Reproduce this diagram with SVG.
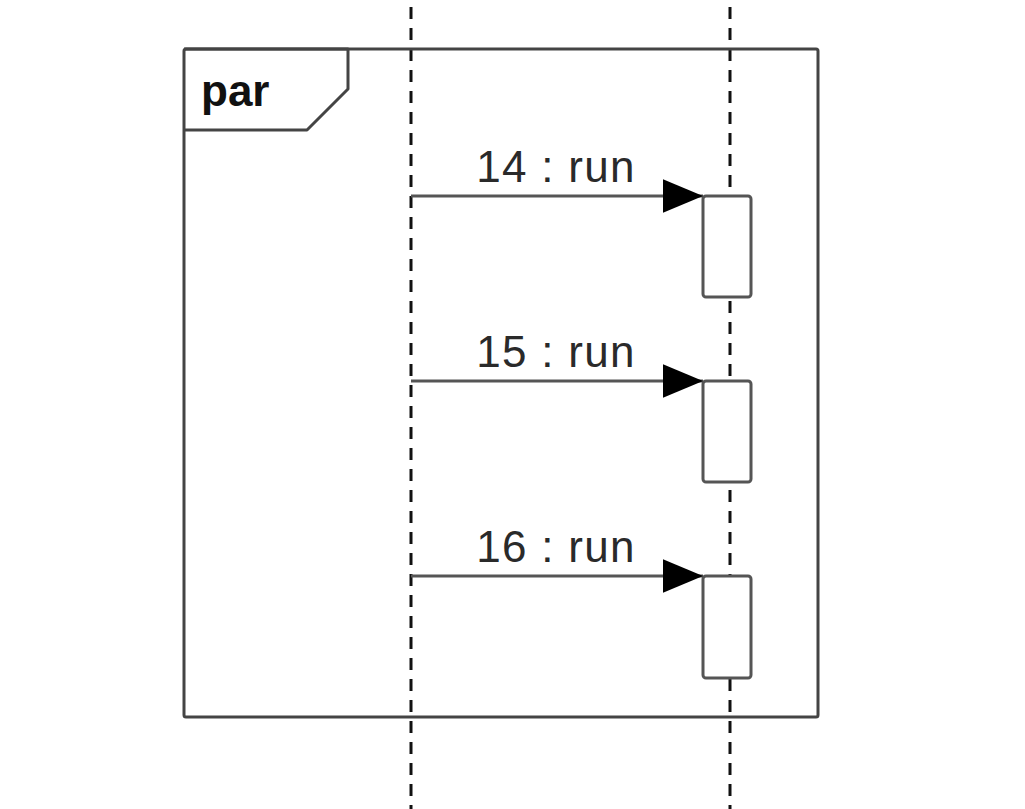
<svg xmlns="http://www.w3.org/2000/svg" width="1025" height="809" viewBox="0 0 1025 809">
<style>
.life{stroke:#111;stroke-width:3;stroke-dasharray:12 9;fill:none}
.frame{stroke:#444;stroke-width:3;fill:none;stroke-linejoin:round}
.act{stroke:#555;stroke-width:3;fill:#fff}
.msg{stroke:#555;stroke-width:3;fill:none}
.lbl{font-family:"Liberation Sans",Arial,sans-serif;font-size:44px;fill:#2a2a2a;text-anchor:middle;letter-spacing:1.3px}
.par{font-family:"Liberation Sans",Arial,sans-serif;font-size:44px;font-weight:bold;fill:#111}
</style>
<defs>
<marker id="arr" markerUnits="userSpaceOnUse" markerWidth="40" markerHeight="34" viewBox="0 0 38 32" refX="38" refY="16" orient="auto">
<path d="M0,0 L38,16 L0,32 Z" fill="#000"/>
</marker>
</defs>
<rect width="1025" height="809" fill="#fff"/>
<g id="lifelines">
<line class="life" x1="411" y1="7" x2="411" y2="809"/>
<line class="life" x1="730" y1="7" x2="730" y2="809"/>
</g>
<g id="frame-par">
<rect class="frame" x="184" y="49" width="634" height="668" rx="2"/>
<path class="frame" d="M184,49 L348,49 L348,89 L307,130 L184,130"/>
<text class="par" x="201" y="106">par</text>
</g>
<g id="act1"><rect class="act" x="703" y="196" width="48" height="101" rx="3"/></g>
<g id="act2"><rect class="act" x="703" y="381" width="48" height="101" rx="3"/></g>
<g id="act3"><rect class="act" x="703" y="576" width="48" height="102" rx="3"/></g>
<g id="connectors">
<line class="msg" x1="411" y1="196" x2="703" y2="196" marker-end="url(#arr)"/>
<line class="msg" x1="411" y1="381" x2="703" y2="381" marker-end="url(#arr)"/>
<line class="msg" x1="411" y1="576" x2="703" y2="576" marker-end="url(#arr)"/>
<text class="lbl" x="556" y="182">14 : run</text>
<text class="lbl" x="556" y="367">15 : run</text>
<text class="lbl" x="556" y="562">16 : run</text>
</g>
</svg>
